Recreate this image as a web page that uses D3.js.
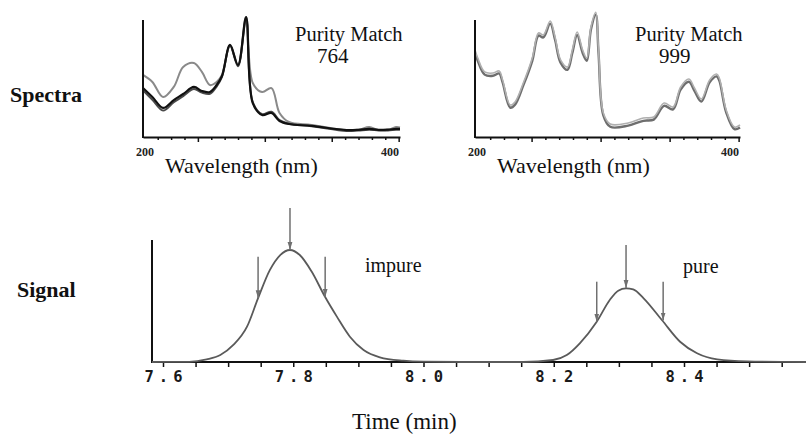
<!DOCTYPE html>
<html>
<head>
<meta charset="utf-8">
<script src="https://cdn.jsdelivr.net/npm/d3@7"></script>
<style>
  html, body { margin: 0; padding: 0; background: #fff; }
  svg { display: block; }
</style>
</head>
<body>
<svg id="chart" width="806" height="435"></svg>
<script>
// ---------- DATA ----------
// Spectrum (impure peak), wavelength in nm, normalized absorbance
const impureWavelengths = [209,216,224,232,239,247,253,259,264,268,274,280,286,291,298,305,311,318,335,361,370,378,385,392,398,401];
const impureSpecGrey  = [0.517,0.458,0.333,0.417,0.583,0.617,0.542,0.433,0.458,0.517,0.767,0.60,1.00,0.45,0.375,0.408,0.20,0.125,0.10,0.058,0.06,0.083,0.058,0.06,0.083,0.08];
const impureSpecDark  = [0.39,0.31,0.22,0.29,0.34,0.40,0.37,0.36,0.42,0.50,0.76,0.59,0.98,0.29,0.19,0.21,0.14,0.11,0.09,0.05,0.055,0.06,0.055,0.055,0.06,0.06];
const impureSpecBlack = [0.408,0.333,0.242,0.308,0.358,0.417,0.383,0.375,0.433,0.508,0.767,0.60,1.00,0.283,0.183,0.20,0.133,0.108,0.092,0.058,0.06,0.067,0.06,0.062,0.067,0.067];

// Spectrum (pure peak)
const pureWavelengths = [209,211,216,222,226.5,229,234.5,238,244,250.5,255,258.5,263.5,267,271,276,279.5,283,287,290,293,296.5,298.5,302,307,320,331,338.5,346,352.5,358,364,368,373,379,384,386,391,397,401];
const pureSpecLight = [0.725,0.658,0.542,0.533,0.55,0.475,0.267,0.292,0.45,0.658,0.867,0.85,0.967,0.833,0.642,0.583,0.725,0.875,0.725,0.658,0.917,1.04,0.725,0.20,0.108,0.117,0.158,0.167,0.283,0.25,0.417,0.483,0.408,0.317,0.475,0.525,0.492,0.225,0.083,0.10];
const pureSpecDark  = [0.70,0.635,0.52,0.51,0.53,0.455,0.245,0.27,0.43,0.635,0.845,0.83,0.945,0.81,0.62,0.56,0.70,0.85,0.70,0.635,0.895,1.02,0.70,0.18,0.085,0.095,0.135,0.145,0.26,0.23,0.395,0.46,0.385,0.295,0.455,0.505,0.47,0.205,0.065,0.08];

const specTickLabels = ["200", "400"];
const specMinorTicks = [220,230,240,250,260,270,280,290,300,310,320,330,340,350,360,370,380,390,400];
const specMajorTicks = [250,300,350,400];

// Chromatogram signal
const signalTimes  = [7.583,7.64,7.667,7.688,7.708,7.729,7.746,7.764,7.780,7.795,7.810,7.828,7.849,7.867,7.887,7.908,7.933,7.969,8.0,8.06,
                      8.153,8.199,8.22,8.24,8.266,8.286,8.299,8.311,8.322,8.338,8.366,8.394,8.420,8.451,8.497,8.588];
const signalValues = [0,0.002,0.024,0.062,0.152,0.315,0.57,0.82,0.955,1.0,0.955,0.81,0.58,0.405,0.226,0.107,0.042,0.012,0.003,0,
                      0,0.018,0.062,0.167,0.36,0.554,0.637,0.658,0.649,0.569,0.375,0.181,0.078,0.024,0.006,0];

const timeTicks = [7.6,7.65,7.7,7.75,7.8,7.85,7.9,7.95,8.0,8.05,8.1,8.15,8.2,8.25,8.3,8.35,8.4,8.45,8.5,8.55];
const timeTickLabels = ["7.6","7.8","8.0","8.2","8.4"];

// Arrows marking the spectra sampling points
const arrowTimes = [7.746,7.795,7.849,8.266,8.311,8.368];
const arrowTails = [0.94,1.375,0.94,0.717,1.045,0.717];
const arrowTips  = [0.57,1.0,0.58,0.36,0.66,0.37];

// ---------- DRAW ----------
const svg = d3.select("#chart");
const serif = "'Liberation Serif', 'Times New Roman', serif";

// marker
svg.append("defs").append("marker")
  .attr("id", "ah").attr("viewBox", "0 0 10 10")
  .attr("refX", 10).attr("refY", 5)
  .attr("markerWidth", 8).attr("markerHeight", 8)
  .attr("markerUnits", "userSpaceOnUse")
  .attr("orient", "auto")
  .append("path").attr("d", "M0,2 L10,5 L0,8 Z").attr("fill", "#707070");

const ySpec = d3.scaleLinear().domain([0, 1]).range([137, 17]);

function spectrumPanel(x0, x1, wl, series, colors, widths, title, num, titleX, numX) {
  const x = d3.scaleLinear().domain([209, 401]).range([x0, x1]);
  const g = svg.append("g");
  const line = d3.line().x((d) => x(d[0])).y((d) => ySpec(d[1])).curve(d3.curveCatmullRom.alpha(0.5));
  series.forEach((vals, i) => {
    g.append("path")
      .datum(wl.map((w, j) => [w, vals[j]]))
      .attr("d", line)
      .attr("fill", "none")
      .attr("stroke", colors[i])
      .attr("stroke-width", widths[i])
      .attr("stroke-linejoin", "round");
  });
  // axes
  g.append("line").attr("x1", x0).attr("x2", x0).attr("y1", 20).attr("y2", ySpec(0) + 1)
    .attr("stroke", "#111").attr("stroke-width", 2);
  const axis = d3.axisBottom(x).tickValues(specMinorTicks).tickSize(3).tickFormat("").tickSizeOuter(0);
  const ag = g.append("g").attr("transform", `translate(0,${ySpec(0)})`).call(axis);
  ag.select(".domain").attr("stroke", "#111").attr("stroke-width", 2.2);
  ag.selectAll(".tick line").attr("stroke", "#111").attr("stroke-width", 1.5)
    .attr("y2", (d) => specMajorTicks.includes(d) ? 5 : 3);
  // tick labels
  g.append("text").attr("x", x(209) + 2).attr("y", 155.5).attr("text-anchor", "middle")
    .attr("font-family", serif).attr("font-weight", "bold").attr("font-size", 12).attr("fill", "#222")
    .text(specTickLabels[0]);
  g.append("text").attr("x", x(401) - 10).attr("y", 155.5).attr("text-anchor", "middle")
    .attr("font-family", serif).attr("font-weight", "bold").attr("font-size", 12).attr("fill", "#222")
    .text(specTickLabels[1]);
  g.append("text").attr("x", x0 + 22).attr("y", 173)
    .attr("font-family", serif).attr("font-size", 22).attr("fill", "#111")
    .text("Wavelength (nm)");
  g.append("text").attr("x", titleX).attr("y", 40.5)
    .attr("font-family", serif).attr("font-size", 20.5).attr("fill", "#111").text(title);
  g.append("text").attr("x", numX).attr("y", 63)
    .attr("font-family", serif).attr("font-size", 21).attr("fill", "#111").text(num);
}

spectrumPanel(143, 400, impureWavelengths,
  [impureSpecGrey, impureSpecDark, impureSpecBlack],
  ["#8a8a8a", "#4a4a4a", "#111111"], [2, 2, 2.2],
  "Purity Match", "764", 295, 317);

spectrumPanel(475, 740, pureWavelengths,
  [pureSpecDark, pureSpecLight],
  ["#6e6e6e", "#b0b0b0"], [2.4, 1.6],
  "Purity Match", "999", 635, 659);

// Row labels
svg.append("text").attr("x", 10).attr("y", 101.5)
  .attr("font-family", serif).attr("font-weight", "bold").attr("font-size", 22).attr("fill", "#111").text("Spectra");
svg.append("text").attr("x", 17).attr("y", 296.5)
  .attr("font-family", serif).attr("font-weight", "bold").attr("font-size", 22).attr("fill", "#111").text("Signal");

// Signal panel
const xT = d3.scaleLinear().domain([7.6, 8.4]).range([163, 684]);
const yS = d3.scaleLinear().domain([0, 1]).range([362, 250]);

const sg = svg.append("g");
sg.append("line").attr("x1", 152).attr("x2", 152).attr("y1", 240).attr("y2", 363)
  .attr("stroke", "#111").attr("stroke-width", 2);
sg.append("line").attr("x1", 151).attr("x2", 806).attr("y1", yS(0)).attr("y2", yS(0))
  .attr("stroke", "#111").attr("stroke-width", 2.2);

const tAxis = d3.axisBottom(xT).tickValues(timeTicks).tickSize(5).tickSizeOuter(0)
  .tickFormat((d) => { const s = d.toFixed(1); return (timeTickLabels.includes(s) && Math.abs(d - +s) < 1e-6) ? s : ""; });
const tg = sg.append("g").attr("transform", `translate(0,${yS(0)})`).call(tAxis);
tg.select(".domain").remove();
tg.selectAll(".tick line").attr("stroke", "#111").attr("stroke-width", 1.5);
tg.selectAll(".tick text")
  .attr("y", 9)
  .attr("dy", "0.71em")
  .attr("dx", "2.5px")
  .attr("font-family", "'DejaVu Sans Mono', monospace")
  .attr("font-weight", "bold")
  .attr("font-size", 15.5)
  .attr("letter-spacing", "5px")
  .attr("fill", "#1a1a1a");

const sLine = d3.line().x((d) => xT(d[0])).y((d) => yS(d[1])).curve(d3.curveMonotoneX);
sg.append("path")
  .datum(signalTimes.map((t, i) => [t, signalValues[i]]))
  .attr("d", sLine)
  .attr("fill", "none").attr("stroke", "#5a5a5a").attr("stroke-width", 1.8);

arrowTimes.forEach((t, i) => {
  sg.append("line")
    .attr("x1", xT(t)).attr("x2", xT(t))
    .attr("y1", yS(arrowTails[i])).attr("y2", yS(arrowTips[i]))
    .attr("stroke", "#707070").attr("stroke-width", 1.5)
    .attr("marker-end", "url(#ah)");
});

sg.append("text").attr("x", 365).attr("y", 271.5)
  .attr("font-family", serif).attr("font-size", 20).attr("fill", "#111").text("impure");
sg.append("text").attr("x", 683).attr("y", 272.5)
  .attr("font-family", serif).attr("font-size", 20).attr("fill", "#111").text("pure");

svg.append("text").attr("x", 352).attr("y", 428.5)
  .attr("font-family", serif).attr("font-size", 23).attr("fill", "#111").text("Time (min)");
</script>
</body>
</html>
